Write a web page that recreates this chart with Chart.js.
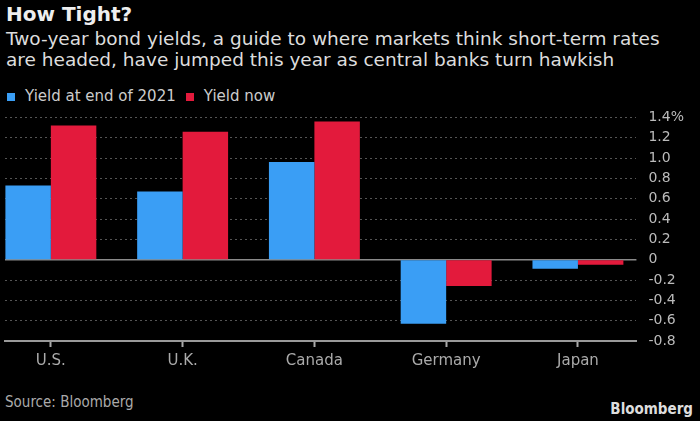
<!DOCTYPE html>
<html>
<head>
<meta charset="utf-8">
<script src="https://cdn.jsdelivr.net/npm/chart.js@4/dist/chart.umd.min.js"></script>
<style>
  html, body { margin: 0; padding: 0; background: #000; }
  body { width: 700px; height: 421px; position: relative; overflow: hidden; font-family: "DejaVu Sans", sans-serif; }
  .txt { position: absolute; white-space: nowrap; }
  #title { left: 6px; top: 2px; font-size: 20px; font-weight: bold; color: #eee; line-height: 24px; }
  #sub { left: 6px; top: 28px; font-size: 18.5px; color: #ddd; line-height: 21px; }
  #legend { left: 7px; top: 87px; font-size: 15px; color: #ccc; line-height: 18px; }
  #legend span.box { display: inline-block; width: 8px; height: 8px; margin-right: 10px; }
  #legend span.item { margin-right: 10px; }
  #source { left: 5px; top: 393px; font-size: 15px; color: #aaa; line-height: 18px; font-family: "DejaVu Sans Condensed", sans-serif; }
  #logo { right: 7px; top: 400px; font-size: 15px; font-weight: bold; color: #ddd; line-height: 18px; font-family: "DejaVu Sans Condensed", sans-serif; }
  #wrap { position: absolute; left: 0; top: 97px; width: 700px; height: 284px; }
</style>
</head>
<body>
<div id="title" class="txt">How Tight?</div>
<div id="sub" class="txt">Two-year bond yields, a guide to where markets think short-term rates<br>are headed, have jumped this year as central banks turn hawkish</div>
<div id="legend" class="txt"></div>
<div id="wrap"><canvas id="yields"></canvas></div>
<div id="source" class="txt">Source: Bloomberg</div>
<div id="logo" class="txt">Bloomberg</div>
<script>
const COUNTRIES = ["U.S.", "U.K.", "Canada", "Germany", "Japan"];
const YIELD_END_2021 = [0.73, 0.67, 0.96, -0.63, -0.09];
const YIELD_NOW = [1.32, 1.26, 1.36, -0.26, -0.05];
const SERIES_NAMES = ["Yield at end of 2021", "Yield now"];
const BLUE = "#3a9ef5";
const RED = "#e31a3c";
const Y_MIN = -0.8;
const Y_MAX = 1.4;

function toPoints(values){
  return values.map((v, i) => ({x: i, y: v}));
}

function yLabel(value){
  if (Math.abs(value - Y_MAX) < 1e-9) return "1.4%";
  if (Math.abs(value) < 1e-9) return "0";
  return value.toFixed(1);
}

function buildLegend(){
  const colors = [BLUE, RED];
  document.getElementById("legend").innerHTML = SERIES_NAMES.map((name, i) =>
    '<span class="item"><span class="box" style="background:' + colors[i] + '"></span>' + name + '</span>'
  ).join("");
}

// solid zero line under the bars
const zeroLine = {
  id: "zeroLine",
  beforeDatasetsDraw(chart){
    const {ctx, chartArea, scales} = chart;
    const y = scales.y.getPixelForValue(0);
    ctx.save();
    ctx.strokeStyle = "#8a8a8a";
    ctx.lineWidth = 1.5;
    ctx.beginPath();
    ctx.moveTo(chartArea.left, y);
    ctx.lineTo(chartArea.right, y);
    ctx.stroke();
    ctx.restore();
  }
};

function createChart(){
  return new Chart(document.getElementById("yields"), {
    type: "bar",
    data: {
      datasets: [
        { label: SERIES_NAMES[0], data: toPoints(YIELD_END_2021), backgroundColor: BLUE },
        { label: SERIES_NAMES[1], data: toPoints(YIELD_NOW), backgroundColor: RED }
      ]
    },
    options: {
      responsive: true,
      maintainAspectRatio: false,
      animation: false,
      categoryPercentage: 0.69,
      barPercentage: 1.0,
      layout: { padding: { top: 8, right: 4, bottom: 6, left: 5 } },
      plugins: { legend: { display: false }, tooltip: { enabled: false } },
      scales: {
        x: {
          type: "linear",
          min: -0.348,
          max: 4.444,
          offset: false,
          bounds: "data",
          afterBuildTicks: scale => { scale.ticks = COUNTRIES.map((c, i) => ({value: i})); },
          grid: { offset: false, drawOnChartArea: false, drawTicks: true, tickLength: 6, tickWidth: 2, color: "#aaa", tickColor: "#aaa" },
          border: { display: true, color: "#999", width: 2 },
          ticks: {
            autoSkip: false, maxRotation: 0, padding: 5,
            color: "#aaa", font: { family: "DejaVu Sans", size: 15 },
            callback: value => COUNTRIES[value] ?? ""
          }
        },
        y: {
          position: "right",
          min: Y_MIN,
          max: Y_MAX,
          grid: { color: "#555", drawTicks: false, lineWidth: 1 },
          border: { display: false, dash: [2, 3] },
          ticks: {
            stepSize: 0.2, autoSkip: false, padding: 12,
            color: "#bbb", font: { family: "DejaVu Sans", size: 14 },
            callback: yLabel
          }
        }
      }
    },
    plugins: [zeroLine]
  });
}

buildLegend();
const myChart = createChart();
</script>
</body>
</html>
